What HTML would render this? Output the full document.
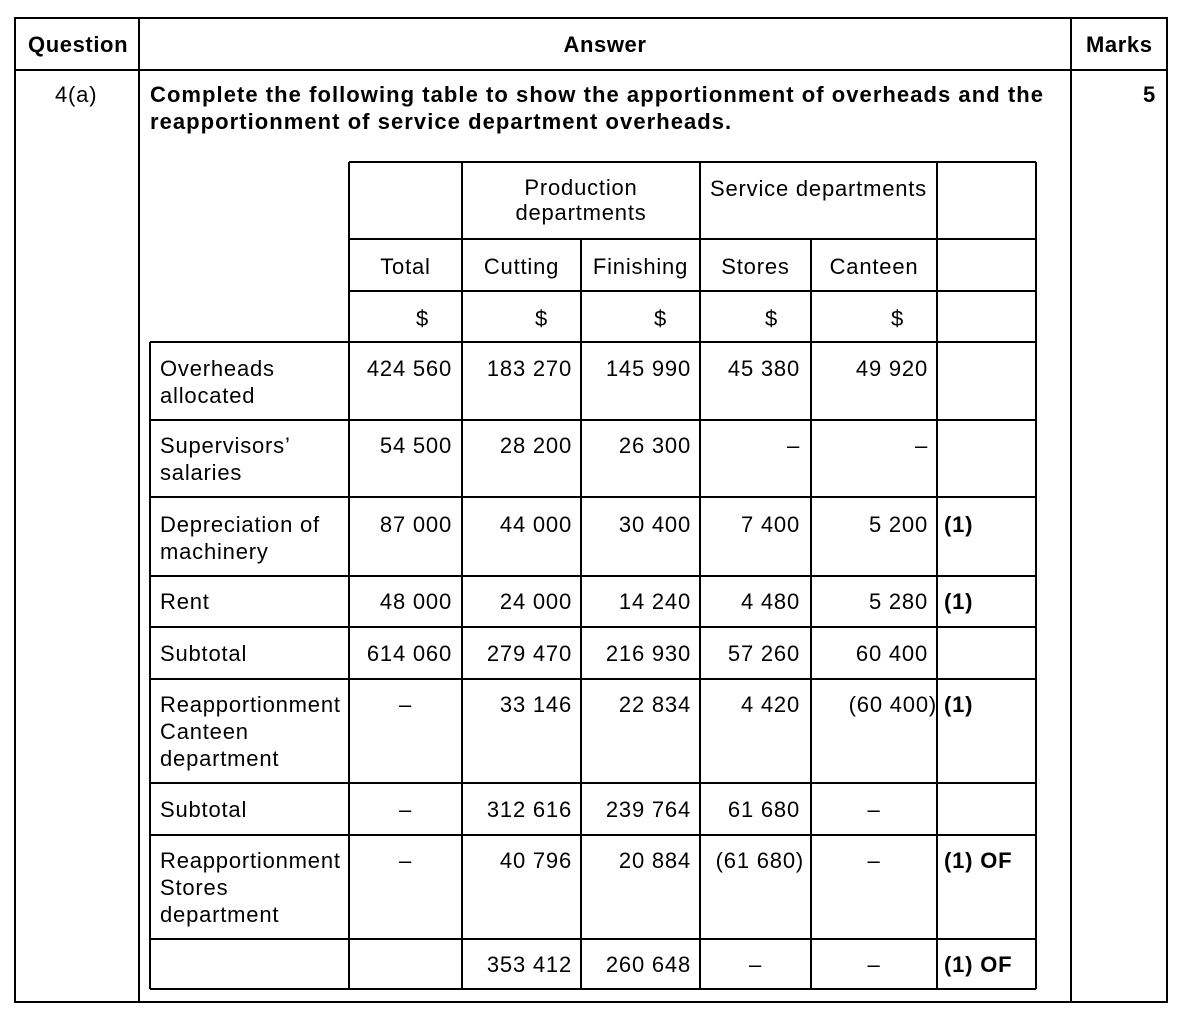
<!DOCTYPE html>
<html><head><meta charset="utf-8"><style>
html,body{margin:0;padding:0;background:#fff;}
body{width:1183px;height:1016px;position:relative;overflow:hidden;font-family:"Liberation Sans",Arial,sans-serif;color:#000;}
.t{position:absolute;font-size:22px;line-height:27px;white-space:nowrap;letter-spacing:0.8px;}
.r{text-align:right;}
.c{text-align:center;}
.b{font-weight:bold;}
.h{letter-spacing:0.6px;}
.q{letter-spacing:1.05px;}
svg{position:absolute;left:0;top:0;}
</style></head><body>
<svg width="1183" height="1016">
<g stroke="#000" stroke-width="2" fill="none">
<rect x="15" y="18" width="1152" height="984"/>
<line x1="139" y1="18" x2="139" y2="1002"/>
<line x1="1071" y1="18" x2="1071" y2="1002"/>
<line x1="15" y1="70" x2="1167" y2="70"/>
<line x1="349" y1="162" x2="1036" y2="162"/>
<line x1="349" y1="239" x2="1036" y2="239"/>
<line x1="349" y1="291" x2="1036" y2="291"/>
<line x1="150" y1="342" x2="1036" y2="342"/>
<line x1="150" y1="420" x2="1036" y2="420"/>
<line x1="150" y1="497" x2="1036" y2="497"/>
<line x1="150" y1="576" x2="1036" y2="576"/>
<line x1="150" y1="627" x2="1036" y2="627"/>
<line x1="150" y1="679" x2="1036" y2="679"/>
<line x1="150" y1="783" x2="1036" y2="783"/>
<line x1="150" y1="835" x2="1036" y2="835"/>
<line x1="150" y1="939" x2="1036" y2="939"/>
<line x1="150" y1="989" x2="1036" y2="989"/>
<line x1="150" y1="342" x2="150" y2="989"/>
<line x1="349" y1="162" x2="349" y2="989"/>
<line x1="462" y1="162" x2="462" y2="989"/>
<line x1="581" y1="239" x2="581" y2="989"/>
<line x1="700" y1="162" x2="700" y2="989"/>
<line x1="811" y1="239" x2="811" y2="989"/>
<line x1="937" y1="162" x2="937" y2="989"/>
<line x1="1036" y1="162" x2="1036" y2="989"/>
</g></svg>

<div class="t b h" style="left:28px;top:31px;">Question</div>
<div class="t b c h" style="left:139px;width:932px;top:31px;">Answer</div>
<div class="t b h" style="left:1086px;top:31px;">Marks</div>
<div class="t" style="left:55px;top:81px;">4(a)</div>
<div class="t b r" style="right:27px;top:81px;">5</div>
<div class="t b q" style="left:150px;top:81px;">Complete the following table to show the apportionment of overheads and the<br>reapportionment of service department overheads.</div>

<div class="t c" style="left:462px;width:238px;top:175px;line-height:25px;">Production<br>departments</div>
<div class="t c" style="left:700px;width:237px;top:175px;">Service departments</div>

<div class="t c" style="left:349px;width:113px;top:253px;">Total</div>
<div class="t c" style="left:462px;width:119px;top:253px;">Cutting</div>
<div class="t c" style="left:581px;width:119px;top:253px;">Finishing</div>
<div class="t c" style="left:700px;width:111px;top:253px;">Stores</div>
<div class="t c" style="left:811px;width:126px;top:253px;">Canteen</div>

<div class="t" style="left:416px;top:305px;">$</div>
<div class="t" style="left:535px;top:305px;">$</div>
<div class="t" style="left:654px;top:305px;">$</div>
<div class="t" style="left:765px;top:305px;">$</div>
<div class="t" style="left:891px;top:305px;">$</div>

<div class="t" style="left:160px;top:355px;">Overheads<br>allocated</div>
<div class="t" style="left:160px;top:432px;">Supervisors’<br>salaries</div>
<div class="t" style="left:160px;top:511px;">Depreciation of<br>machinery</div>
<div class="t" style="left:160px;top:588px;">Rent</div>
<div class="t" style="left:160px;top:640px;">Subtotal</div>
<div class="t" style="left:160px;top:691px;">Reapportionment<br>Canteen<br>department</div>
<div class="t" style="left:160px;top:796px;">Subtotal</div>
<div class="t" style="left:160px;top:847px;">Reapportionment<br>Stores<br>department</div>

<div class="t r" style="right:731px;top:355px;">424 560</div>
<div class="t r" style="right:611px;top:355px;">183 270</div>
<div class="t r" style="right:492px;top:355px;">145 990</div>
<div class="t r" style="right:383px;top:355px;">45 380</div>
<div class="t r" style="right:255px;top:355px;">49 920</div>

<div class="t r" style="right:731px;top:432px;">54 500</div>
<div class="t r" style="right:611px;top:432px;">28 200</div>
<div class="t r" style="right:492px;top:432px;">26 300</div>
<div class="t r" style="right:383px;top:432px;">–</div>
<div class="t r" style="right:255px;top:432px;">–</div>

<div class="t r" style="right:731px;top:511px;">87 000</div>
<div class="t r" style="right:611px;top:511px;">44 000</div>
<div class="t r" style="right:492px;top:511px;">30 400</div>
<div class="t r" style="right:383px;top:511px;">7 400</div>
<div class="t r" style="right:255px;top:511px;">5 200</div>
<div class="t b" style="left:944px;top:511px;">(1)</div>

<div class="t r" style="right:731px;top:588px;">48 000</div>
<div class="t r" style="right:611px;top:588px;">24 000</div>
<div class="t r" style="right:492px;top:588px;">14 240</div>
<div class="t r" style="right:383px;top:588px;">4 480</div>
<div class="t r" style="right:255px;top:588px;">5 280</div>
<div class="t b" style="left:944px;top:588px;">(1)</div>

<div class="t r" style="right:731px;top:640px;">614 060</div>
<div class="t r" style="right:611px;top:640px;">279 470</div>
<div class="t r" style="right:492px;top:640px;">216 930</div>
<div class="t r" style="right:383px;top:640px;">57 260</div>
<div class="t r" style="right:255px;top:640px;">60 400</div>

<div class="t c" style="left:349px;width:113px;top:691px;">–</div>
<div class="t r" style="right:611px;top:691px;">33 146</div>
<div class="t r" style="right:492px;top:691px;">22 834</div>
<div class="t r" style="right:383px;top:691px;">4 420</div>
<div class="t r" style="right:246px;top:691px;">(60 400)</div>
<div class="t b" style="left:944px;top:691px;">(1)</div>

<div class="t c" style="left:349px;width:113px;top:796px;">–</div>
<div class="t r" style="right:611px;top:796px;">312 616</div>
<div class="t r" style="right:492px;top:796px;">239 764</div>
<div class="t r" style="right:383px;top:796px;">61 680</div>
<div class="t c" style="left:811px;width:126px;top:796px;">–</div>

<div class="t c" style="left:349px;width:113px;top:847px;">–</div>
<div class="t r" style="right:611px;top:847px;">40 796</div>
<div class="t r" style="right:492px;top:847px;">20 884</div>
<div class="t r" style="right:379px;top:847px;">(61 680)</div>
<div class="t c" style="left:811px;width:126px;top:847px;">–</div>
<div class="t b" style="left:944px;top:847px;">(1) OF</div>

<div class="t r" style="right:611px;top:951px;">353 412</div>
<div class="t r" style="right:492px;top:951px;">260 648</div>
<div class="t c" style="left:700px;width:111px;top:951px;">–</div>
<div class="t c" style="left:811px;width:126px;top:951px;">–</div>
<div class="t b" style="left:944px;top:951px;">(1) OF</div>
</body></html>
